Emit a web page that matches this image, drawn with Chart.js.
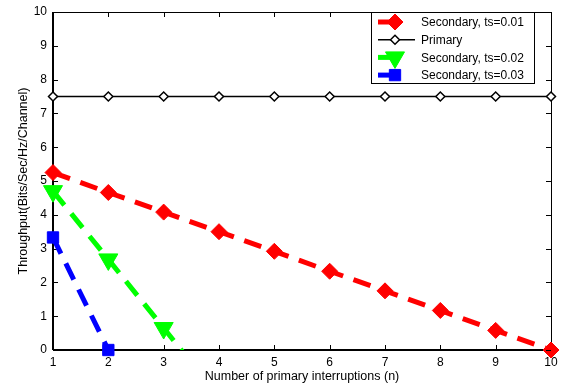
<!DOCTYPE html>
<html>
<head>
<meta charset="utf-8">
<script src="https://cdn.jsdelivr.net/npm/chart.js@4.4.0/dist/chart.umd.min.js"></script>
<style>
  html, body { margin: 0; padding: 0; background: #fff; }
</style>
</head>
<body>
<canvas id="chart" width="570" height="388"></canvas>
<script>
// data
let interruptions = [1, 2, 3, 4, 5, 6, 7, 8, 9, 10];
let secondary001 = [5.25, 4.66, 4.08, 3.5, 2.92, 2.33, 1.75, 1.17, 0.58, 0];
let primary = [7.5, 7.5, 7.5, 7.5, 7.5, 7.5, 7.5, 7.5, 7.5, 7.5];
let secondary002 = [4.7, 2.68, 0.65, -1.4];
let secondary003 = [3.33, 0];
let yTicks = [0, 1, 2, 3, 4, 5, 6, 7, 8, 9, 10];

function pts(ys) {
  return ys.map(function (y, i) { return { x: interruptions[i], y: y }; });
}

let font = "'Liberation Sans', Arial, sans-serif";

// matlab style box with inward ticks + legend inside the axes
let matlabBox = {
  id: "matlabBox",
  afterDraw: function (chart) {
    let ctx = chart.ctx;
    let a = chart.chartArea;
    let xs = chart.scales.x;
    let ys = chart.scales.y;
    ctx.save();
    ctx.strokeStyle = "#000";
    ctx.lineWidth = 1;
    ctx.beginPath();
    interruptions.forEach(function (v) {
      let px = Math.round(xs.getPixelForValue(v)) + 0.5;
      ctx.moveTo(px, a.top); ctx.lineTo(px, a.top + 5);
    });
    yTicks.forEach(function (v) {
      let py = Math.round(ys.getPixelForValue(v)) + 0.5;
      ctx.moveTo(a.right, py); ctx.lineTo(a.right - 5, py);
    });
    ctx.stroke();

    // legend
    let bx = 371, by = 12, bw = 163, bh = 71;
    ctx.fillStyle = "#fff";
    ctx.fillRect(bx, by, bw, bh);
    ctx.strokeRect(bx + 0.5, by + 0.5, bw, bh);
    [0, 1, 2, 3].forEach(function (di, k) {
      let ds = chart.data.datasets[di];
      let yy = by + 10 + k * 17.7;
      ctx.setLineDash([]);
      ctx.strokeStyle = ds.borderColor;
      ctx.lineWidth = ds.borderWidth;
      ctx.beginPath();
      ctx.moveTo(bx + 7, yy);
      ctx.lineTo(bx + (di === 1 ? 44 : 24), yy);
      ctx.stroke();
      ctx.fillStyle = ds.pointBackgroundColor;
      ctx.strokeStyle = ds.pointBorderColor;
      ctx.lineWidth = ds.pointBorderWidth;
      Chart.helpers.drawPoint(ctx, {
        pointStyle: ds.pointStyle,
        rotation: ds.pointRotation || 0,
        radius: ds.pointRadius,
        borderWidth: ds.pointBorderWidth
      }, bx + 24, yy);
      ctx.fillStyle = "#000";
      ctx.font = "12px " + font;
      ctx.textBaseline = "middle";
      ctx.fillText(ds.label, bx + 50, yy + 1);
    });
    ctx.restore();
  },
  beforeDatasetsDraw: function (chart) {
    // axes box under the markers
    let ctx = chart.ctx;
    let a = chart.chartArea;
    let xs = chart.scales.x;
    let ys = chart.scales.y;
    ctx.save();
    ctx.strokeStyle = "#000";
    ctx.lineWidth = 1;
    ctx.strokeRect(Math.round(a.left) + 0.5, Math.round(a.top) + 0.5, Math.round(a.right - a.left), Math.round(a.bottom - a.top));
    ctx.lineWidth = 2;
    ctx.beginPath();
    ctx.moveTo(a.left, Math.round(a.bottom)); ctx.lineTo(a.right, Math.round(a.bottom));
    ctx.moveTo(Math.round(a.left), a.top); ctx.lineTo(Math.round(a.left), a.bottom);
    ctx.stroke();
    ctx.lineWidth = 1;
    ctx.beginPath();
    interruptions.forEach(function (v) {
      let px = Math.round(xs.getPixelForValue(v)) + 0.5;
      ctx.moveTo(px, a.bottom); ctx.lineTo(px, a.bottom - 5);
    });
    yTicks.forEach(function (v) {
      let py = Math.round(ys.getPixelForValue(v)) + 0.5;
      ctx.moveTo(a.left, py); ctx.lineTo(a.left + 5, py);
    });
    ctx.stroke();
    ctx.restore();
  }
};

let dash = [18, 11];

new Chart(document.getElementById("chart"), {
  type: "line",
  data: {
    datasets: [
      {
        label: "Secondary, ts=0.01",
        data: pts(secondary001),
        borderColor: "#ff0000",
        borderWidth: 5,
        borderDash: dash,
        pointStyle: "rectRot",
        pointRadius: 8,
        pointBackgroundColor: "#ff0000",
        pointBorderColor: "#ff0000",
        pointBorderWidth: 1,
        clip: false
      },
      {
        label: "Primary",
        data: pts(primary),
        borderColor: "#000000",
        borderWidth: 1.5,
        pointStyle: "rectRot",
        pointRadius: 4.5,
        pointBackgroundColor: "#ffffff",
        pointBorderColor: "#000000",
        pointBorderWidth: 1.5,
        clip: false
      },
      {
        label: "Secondary, ts=0.02",
        data: pts(secondary002),
        borderColor: "#00ff00",
        borderWidth: 5,
        borderDash: dash,
        pointStyle: "triangle",
        pointRotation: 180,
        pointRadius: 11,
        pointBackgroundColor: "#00ff00",
        pointBorderColor: "#00ff00",
        pointBorderWidth: 1,
        clip: { left: 15, top: 15, right: 15, bottom: 0 }
      },
      {
        label: "Secondary, ts=0.03",
        data: pts(secondary003),
        borderColor: "#0000ff",
        borderWidth: 5,
        borderDash: dash,
        pointStyle: "rect",
        pointRadius: 8,
        pointBackgroundColor: "#0000ff",
        pointBorderColor: "#0000ff",
        pointBorderWidth: 1,
        clip: false
      }
    ]
  },
  options: {
    responsive: false,
    animation: false,
    devicePixelRatio: 1,
    layout: { padding: { top: 8, right: 19, left: 16, bottom: 4 } },
    plugins: {
      legend: { display: false },
      tooltip: { enabled: false }
    },
    elements: { line: { tension: 0 } },
    scales: {
      x: {
        type: "linear",
        min: 1,
        max: 10,
        grid: { display: false, drawTicks: false },
        border: { display: false },
        ticks: { stepSize: 1, color: "#000", font: { family: font, size: 12 }, padding: 5, maxRotation: 0 },
        title: { display: true, text: "Number of primary interruptions (n)", color: "#000", font: { family: font, size: 12.5 }, padding: 0 },
        afterFit: function (s) { s.height = 34; s.paddingLeft = 0; s.paddingRight = 0; }
      },
      y: {
        min: 0,
        max: 10,
        grid: { display: false, drawTicks: false },
        border: { display: false },
        ticks: { stepSize: 1, color: "#000", font: { family: font, size: 12 }, padding: 6 },
        title: { display: true, text: "Throughput(Bits/Sec/Hz/Channel)", color: "#000", font: { family: font, size: 12.5 }, padding: 0 },
        afterFit: function (s) { s.width = 37; s.paddingTop = 0; s.paddingBottom = 0; }
      }
    }
  },
  plugins: [matlabBox]
});
</script>
</body>
</html>
